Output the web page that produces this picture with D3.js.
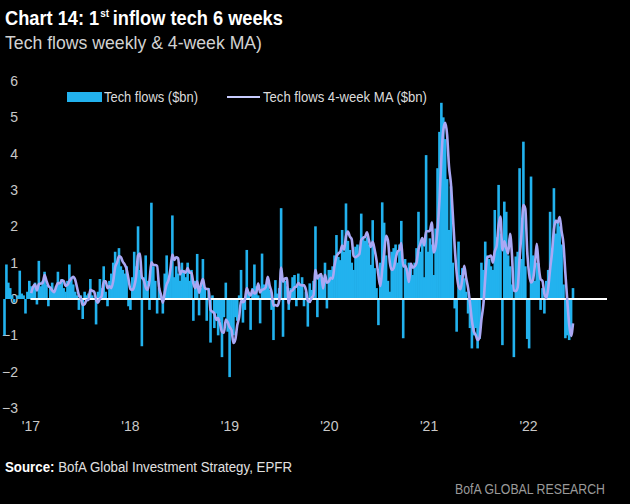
<!DOCTYPE html>
<html>
<head>
<meta charset="utf-8">
<script src="https://cdn.jsdelivr.net/npm/d3@7"></script>
<style>
  html, body { margin: 0; padding: 0; background: #000; }
  svg { display: block; }
  text { font-family: "Liberation Sans Narrow", "Liberation Sans", Arial, sans-serif; }
</style>
</head>
<body>
<svg id="chart" width="630" height="504"></svg>
<script>
// ---- Data (weekly tech fund flows, $bn) ----
const firstWeek = "2016-09-28";
const flows = [
  -1.0, 0.95, 0.45, 0.3, 0.1, -0.1, 0.0, 0.1, 0.78, 0.15,
  0.1, -0.4, 0.2, 0.5, 0.35, 0.3, 0.45, -0.15, 1.05, 0.35,
  0.5, 0.75, 0.4, -0.2, 0.3, 0.45, 0.2, 0.35, 0.75, 0.4,
  0.55, 0.3, 0.2, 0.5, 0.95, 0.6, 0.4, 0.2, 0.1, -0.3,
  0.1, -0.55, 0.2, 0.1, 0.15, 0.55, 0.1, 0.0, -0.7, 0.2,
  0.55, 0.3, 0.9, 0.2, -0.2, 0.5, 0.7, 1.0, 1.3, 1.0,
  1.4, 0.9, 0.8, 0.7, 0.9, -0.2, -0.3, 0.6, 1.3, 0.9,
  2.0, 0.8, -1.3, 0.6, 1.2, 0.5, -0.3, 2.65, 0.9, 0.5,
  -0.4, 0.3, 0.1, -0.4, 0.7, 1.2, 0.6, 0.8, 2.3, 0.6,
  0.9, 0.7, 0.5, 1.0, 0.8, 0.6, 1.0, 0.5, 0.8, -0.6,
  0.5, 1.24, -0.45, 0.3, 1.1, 0.3, -0.6, 0.3, -1.2, 0.1,
  -0.8, -0.4, -1.0, -0.6, -1.6, -0.5, 0.45, -0.9, -2.15, -0.8,
  -1.0, -0.5, -0.6, 0.1, 0.8, -0.65, -0.3, 1.35, 0.2, -0.85,
  0.3, 0.95, 0.35, 0.1, -0.67, 1.25, 0.4, 0.35, 0.45, 0.25,
  -0.3, -1.13, 0.52, 0.15, 0.3, 2.5, -1.04, 0.5, 0.35, -0.3,
  0.3, 0.6, 0.66, -0.2, 0.7, 0.4, 0.6, -0.2, 0.2, -0.76,
  0.43, 0.25, 0.5, 2.0, -0.5, 0.6, 0.66, 0.4, 1.0, -0.26,
  0.8, 0.8, 0.9, 1.2, 1.76, 1.16, 1.07, 1.9, 1.3, 2.63,
  1.6, 1.35, 1.0, 0.8, 1.44, 1.5, 1.2, 2.35, 1.7, 1.6,
  1.7, 1.5, 0.94, 2.17, 0.85, 0.3, -0.72, 1.0, 2.66, 2.1,
  1.2, 0.5, 0.2, 1.3, 1.4, 1.5, 1.0, 1.5, 2.15, -1.08,
  1.1, 0.85, 1.0, 0.94, 0.66, 1.0, 1.4, 2.4, 1.3, 1.6,
  0.6, 3.96, 1.3, 1.67, 1.5, 0.66, 1.94, 3.6, 4.6, 5.4,
  5.0, 4.4, 3.3, 1.9, 3.1, 1.0, -0.26, -0.9, 1.58, 0.66,
  0.85, 0.57, 0.2, -0.4, -0.8, -1.36, -1.0, -0.8, -1.36, -1.1,
  1.0, 0.8, 1.58, 1.2, 1.1, 0.9, 0.8, 2.45, 1.7, 3.14,
  1.8, -1.27, 2.68, 2.4, 1.2, 0.9, 0.4, -1.6, 1.17, 1.3,
  3.6, 1.1, 4.33, 0.9, -1.1, -1.36, 3.37, 1.2, 0.5, 1.0,
  0.98, -0.3, 0.3, -0.4, 0.5, 0.8, 2.4, 1.4, 3.05, 1.8,
  2.17, 2.0, 1.5, 0.4, -1.08, -1.0, -1.13, -0.85, 0.3
];
const maWindow = 4;
const maStart = "2017-01-01";
const yTicks = [-3, -2, -1, 0, 1, 2, 3, 4, 5, 6];
const xTickYears = [2017, 2018, 2019, 2020, 2021, 2022];
const xTickLabels = ["'17", "'18", "'19", "'20", "'21", "'22"];

// ---- Derived ----
const parse = d3.utcParse("%Y-%m-%d");
const start = parse(firstWeek);
const dates = flows.map((_, i) => d3.utcWeek.offset(start, i));
const maFrom = parse(maStart);
const ma = flows.map((_, i) => i < maWindow - 1 ? null : d3.mean(flows.slice(i - maWindow + 1, i + 1)));
const series = flows.map((v, i) => ({ date: dates[i], v, ma: ma[i] }));

// ---- Layout ----
const svg = d3.select("#chart");
svg.append("rect").attr("width", 630).attr("height", 504).attr("fill", "#000");

const x = d3.scaleUtc().domain([dates[0], dates[dates.length - 1]]).range([4.5, 573]);
const y = d3.scaleLinear().domain([-3, 6]).range([408, 81]);
const barW = 2.6;
const fontFam = "'Liberation Sans Narrow', 'Liberation Sans', Arial, sans-serif";

// Title (separate pieces so the superscript sits beside the "1")
const tg = svg.append("g");
const parts = [
  { txt: "Chart 14: 1", size: 20, dy: 0, gap: 1 },
  { txt: "st", size: 11, dy: -8, gap: 4 },
  { txt: "inflow tech 6 weeks", size: 20, dy: 0, gap: 0 }
];
let cx = 0;
parts.forEach(p => {
  const el = tg.append("text").attr("x", cx).attr("y", 25 + p.dy)
    .attr("fill", "#ffffff").attr("font-size", p.size).attr("font-weight", "bold").text(p.txt);
  cx += el.node().getComputedTextLength() + p.gap;
});
const k = 278 / cx;
tg.attr("transform", `translate(5,0) scale(${k},1)`);

svg.append("text").attr("x", 5).attr("y", 49)
  .attr("fill", "#d2d2d2").attr("font-size", 18)
  .attr("textLength", 257).attr("lengthAdjust", "spacingAndGlyphs")
  .text("Tech flows weekly & 4-week MA)");

// Y axis labels
const yAxis = d3.axisLeft(y).tickValues(yTicks).tickSize(0).tickPadding(3).tickFormat(d3.format("d"));
const gy = svg.append("g").attr("transform", "translate(21,0)").call(yAxis);
gy.select(".domain").remove();
gy.selectAll("text").attr("fill", "#c9c9c9").attr("font-size", 14).style("font-family", fontFam);

// X axis labels
const xAxis = d3.axisBottom(x)
  .tickValues(xTickYears.map(yr => new Date(Date.UTC(yr, 0, 1))))
  .tickFormat((d, i) => xTickLabels[i]).tickSize(0).tickPadding(3);
const gx = svg.append("g").attr("transform", "translate(0,418)").call(xAxis);
gx.select(".domain").remove();
gx.selectAll("text").attr("fill", "#c9c9c9").attr("font-size", 14).style("font-family", fontFam);

// Bars
svg.append("g").selectAll("rect").data(series).join("rect")
  .attr("x", d => x(d.date) - barW / 2)
  .attr("width", barW)
  .attr("y", d => Math.min(y(d.v), y(0)))
  .attr("height", d => Math.abs(y(d.v) - y(0)))
  .attr("fill", "#22b2ee");

// Zero line
svg.append("line")
  .attr("x1", x(new Date(Date.UTC(2017, 0, 1)))).attr("x2", 607)
  .attr("y1", y(0)).attr("y2", y(0))
  .attr("stroke", "#ffffff").attr("stroke-width", 2);

// MA line
const line = d3.line()
  .defined(d => d.ma !== null && d.date >= maFrom)
  .x(d => x(d.date)).y(d => y(d.ma))
  .curve(d3.curveMonotoneX);
svg.append("path").datum(series).attr("d", line)
  .attr("fill", "none").attr("stroke", "#aaa8f4").attr("stroke-width", 2.6)
  .attr("stroke-linejoin", "round");

// Legend
const lg = svg.append("g");
lg.append("rect").attr("x", 67).attr("y", 92).attr("width", 35).attr("height", 10).attr("fill", "#22b2ee");
lg.append("text").attr("x", 104).attr("y", 102).attr("fill", "#dcdcdc").attr("font-size", 14)
  .attr("textLength", 94).attr("lengthAdjust", "spacingAndGlyphs").text("Tech flows ($bn)");
lg.append("line").attr("x1", 227).attr("x2", 260).attr("y1", 97).attr("y2", 97)
  .attr("stroke", "#c8ccff").attr("stroke-width", 2);
lg.append("text").attr("x", 263).attr("y", 102).attr("fill", "#dcdcdc").attr("font-size", 14)
  .attr("textLength", 164).attr("lengthAdjust", "spacingAndGlyphs").text("Tech flows 4-week MA ($bn)");

// Source & branding
const s = svg.append("text").attr("x", 5).attr("y", 472).attr("font-size", 14).attr("fill", "#e0e0e0")
  .attr("textLength", 287).attr("lengthAdjust", "spacingAndGlyphs");
s.append("tspan").attr("font-weight", "bold").attr("fill", "#ffffff").text("Source:");
s.append("tspan").text("  BofA Global Investment Strategy, EPFR");

svg.append("text").attr("x", 605).attr("y", 494).attr("text-anchor", "end")
  .attr("font-size", 14).attr("fill", "#9a9a9a")
  .attr("textLength", 150).attr("lengthAdjust", "spacingAndGlyphs").text("BofA GLOBAL RESEARCH");
</script>
</body>
</html>
